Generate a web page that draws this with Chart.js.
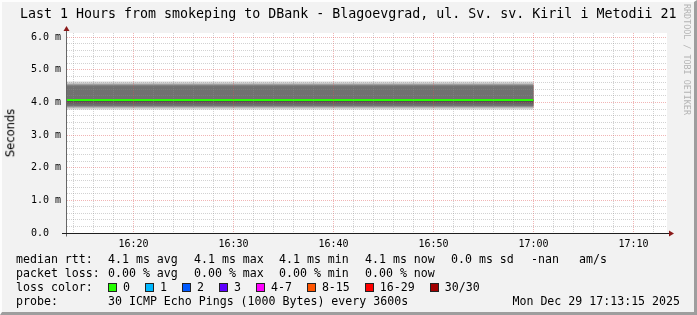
<!DOCTYPE html>
<html>
<head>
<meta charset="utf-8">
<script src="https://cdn.jsdelivr.net/npm/chart.js@4.4.1/dist/chart.umd.min.js"></script>
<style>
  html, body { margin: 0; padding: 0; }
  body {
    width: 697px; height: 315px; position: relative; overflow: hidden;
    background: #f2f2f2; color: #000;
    font-family: 'DejaVu Sans Mono', monospace;
  }
  #frame {
    position: absolute; left: 0; top: 0; width: 697px; height: 315px; box-sizing: border-box;
    border-top: 2px solid #fdfdfd; border-left: 2px solid #fdfdfd;
    border-right: 3px solid #9e9e9e; border-bottom: 3px solid #9e9e9e;
  }
  #chart { position: absolute; left: 0; top: 0; }
  .txt { position: absolute; white-space: pre; line-height: 1; }
  #title { left: 20px; top: 7px; font-size: 13.3px; }
  #ylabel {
    left: 11px; top: 133px; font-family: 'DejaVu Sans', sans-serif; font-size: 11.5px;
    transform: translate(-50%, -50%) rotate(-90deg);
  }
  #rrd { left: 683px; top: 4px; font-size: 8.4px; color: #b4b4b4; writing-mode: vertical-rl; }
  .lg { font-size: 11.6px; }
  .box { position: absolute; width: 7px; height: 7px; border: 1px solid #222; }
</style>
</head>
<body>
<div id="frame"></div>
<canvas id="chart" width="697" height="315"></canvas>
<div class="txt" id="title">Last 1 Hours from smokeping to DBank - Blagoevgrad, ul. Sv. sv. Kiril i Metodii 21</div>
<div class="txt" id="ylabel">Seconds</div>
<div class="txt" id="rrd">RRDTOOL / TOBI OETIKER</div>
<div id="legend"></div>
<script>
// Data (milliseconds)
const sampleTimes = [0, 60];            // minutes after 16:00 (16:00 -> 17:00 sample)
const pings = [3.78, 3.80, 3.82, 3.84, 3.85, 3.86, 3.87, 3.88, 3.89, 3.90,
               3.95, 4.00, 4.03, 4.05, 4.07, 4.08, 4.08, 4.085, 4.09, 4.10,
               4.50, 4.53, 4.54, 4.55, 4.56, 4.57, 4.58, 4.60, 4.62, 4.65];
const medianRtt = [4.08, 4.08];

// Axis
const xRange = [13.35, 73.35];
const yRange = [0, 6.13];
const xTickLabels = ['16:20', '16:30', '16:40', '16:50', '17:00', '17:10'];
const yTickLabels = ['0.0', '1.0 m', '2.0 m', '3.0 m', '4.0 m', '5.0 m', '6.0 m'];

// Legend
const rttNames = ['avg', 'max', 'min', 'now', 'sd'];
const rttValues = [4.1, 4.1, 4.1, 4.1, 0.0];
const lossNames = ['avg', 'max', 'min', 'now'];
const lossValues = [0, 0, 0, 0];
const lossBins = ['0', '1', '2', '3', '4-7', '8-15', '16-29', '30/30'];
const lossColors = ['#26ff00', '#00b8ff', '#0059ff', '#5e00ff', '#ff00ff', '#ff5500', '#ff0000', '#a10000'];

// smoke shades, outermost band first
const smokeShades = ['#e3e3e3', '#d6d6d6', '#cacaca', '#bdbdbd', '#b0b0b0', '#a4a4a4', '#979797',
                     '#8a8a8a', '#7e7e7e', '#717171', '#646464', '#585858', '#4b4b4b', '#3e3e3e', '#323232'];

const pts = vals => sampleTimes.map((t, i) => ({ x: t, y: Array.isArray(vals) ? vals[i] : vals }));

// median on top, then bands from the inside out
const datasets = [{
  data: pts(medianRtt), borderColor: lossColors[0], borderWidth: 2,
  pointRadius: 0, fill: false, borderCapStyle: 'butt'
}];
const half = pings.length / 2;
for (let b = half; b >= 1; b--) {
  datasets.push({
    data: pts(pings[b - 1]), borderColor: 'transparent', borderWidth: 0, pointRadius: 0,
    backgroundColor: smokeShades[b - 1], fill: '+1'
  });
  datasets.push({
    data: pts(pings[pings.length - b]), borderColor: 'transparent', borderWidth: 0, pointRadius: 0, fill: false
  });
}

const minorGrid = 'rgba(143,143,143,0.4)';
const majorGrid = 'rgba(222,79,79,0.42)';

const canvasBg = {
  id: 'canvasBg',
  beforeDraw(chart) {
    const { ctx, chartArea: a } = chart;
    ctx.save();
    ctx.fillStyle = '#ffffff';
    ctx.fillRect(a.left, a.top, a.right - a.left, a.bottom - a.top);
    ctx.restore();
  }
};

const axesArrows = {
  id: 'axesArrows',
  afterDraw(chart) {
    const { ctx, chartArea: a } = chart;
    const x0 = a.left - 0.5, y0 = a.bottom + 0.5;
    ctx.save();
    ctx.lineWidth = 1;
    ctx.strokeStyle = '#666';
    ctx.beginPath(); ctx.moveTo(x0, y0 + 3); ctx.lineTo(x0, a.top - 4); ctx.stroke();
    ctx.strokeStyle = '#1f1f1f';
    ctx.beginPath(); ctx.moveTo(a.left - 5, y0); ctx.lineTo(a.right + 3, y0); ctx.stroke();
    ctx.fillStyle = '#8b1a1a';
    ctx.beginPath();
    ctx.moveTo(x0 - 3, a.top - 2); ctx.lineTo(x0 + 3, a.top - 2); ctx.lineTo(x0, a.top - 7);
    ctx.closePath(); ctx.fill();
    ctx.beginPath();
    ctx.moveTo(a.right + 2, y0 - 3); ctx.lineTo(a.right + 2, y0 + 3); ctx.lineTo(a.right + 7, y0);
    ctx.closePath(); ctx.fill();
    ctx.restore();
  }
};

new Chart(document.getElementById('chart'), {
  type: 'line',
  data: { datasets },
  options: {
    responsive: false,
    animation: false,
    devicePixelRatio: 1,
    events: [],
    layout: { padding: { left: 31, top: 33, right: 30, bottom: 62 } },
    plugins: { legend: { display: false }, tooltip: { enabled: false }, title: { display: false } },
    scales: {
      x: {
        type: 'linear', min: xRange[0], max: xRange[1],
        afterFit(s) { s.height = 20; },
        afterBuildTicks(s) {
          const t = [];
          for (let m = Math.ceil(xRange[0] / 2) * 2; m <= xRange[1]; m += 2) t.push({ value: m });
          s.ticks = t;
        },
        border: { display: false, dash: [1, 1] },
        grid: {
          z: 1, drawTicks: false, lineWidth: 1,
          color: c => (c.tick && c.tick.value % 10 === 0) ? majorGrid : minorGrid
        },
        ticks: {
          autoSkip: false, maxRotation: 0, padding: 5, color: '#000',
          font: { family: "'DejaVu Sans Mono'", size: 10 },
          callback: v => v % 10 === 0 ? (xTickLabels[(v - 20) / 10] || '') : ''
        }
      },
      y: {
        type: 'linear', min: yRange[0], max: yRange[1],
        afterFit(s) { s.width = 36; },
        afterBuildTicks(s) {
          const t = [];
          for (let k = 0; k <= (yTickLabels.length - 1) * 5; k++) t.push({ value: k / 5 });
          s.ticks = t;
        },
        border: { display: false, dash: [1, 1] },
        grid: {
          z: 1, drawTicks: false, lineWidth: 1,
          color: c => {
            if (!c.tick || c.tick.value === 0) return 'rgba(0,0,0,0)';
            return Math.abs(c.tick.value - Math.round(c.tick.value)) < 1e-6 ? majorGrid : minorGrid;
          }
        },
        ticks: {
          autoSkip: false, crossAlign: 'far', color: '#000',
          font: { family: "'DejaVu Sans Mono'", size: 10 },
          callback: v => {
            const r = Math.round(v);
            return Math.abs(v - r) < 1e-6 ? (yTickLabels[r] || '') : '';
          }
        }
      }
    }
  },
  plugins: [canvasBg, axesArrows]
});

// legend block under the graph
const legend = document.getElementById('legend');
function put(text, x, yc, extra) {
  const d = document.createElement('div');
  d.className = 'txt lg';
  d.textContent = text;
  d.style.left = x + 'px';
  d.style.top = (yc - 5.2) + 'px';
  if (extra) Object.assign(d.style, extra);
  legend.appendChild(d);
  return d;
}
const colX = [108, 194, 279, 365, 451];
const rows = [259, 273, 287, 301];

put('median rtt:', 16, rows[0]);
rttValues.forEach((v, i) => put(v.toFixed(1) + ' ms ' + rttNames[i], colX[i], rows[0]));
put('-nan', 531, rows[0]);
put('am/s', 579, rows[0]);

put('packet loss:', 16, rows[1]);
lossValues.forEach((v, i) => put(v.toFixed(2) + ' % ' + lossNames[i], colX[i], rows[1]));

put('loss color:', 16, rows[2]);
let bx = 108;
lossBins.forEach((label, i) => {
  const b = document.createElement('div');
  b.className = 'box';
  b.style.left = bx + 'px';
  b.style.top = (rows[2] - 4) + 'px';
  b.style.background = lossColors[i];
  legend.appendChild(b);
  const t = put(label, bx + 15, rows[2]);
  bx += 15 + t.getBoundingClientRect().width + 15;
});

put('probe:', 16, rows[3]);
put('30 ICMP Echo Pings (1000 Bytes) every 3600s', 108, rows[3]);
put('Mon Dec 29 17:13:15 2025', 0, rows[3], { left: 'auto', right: '17px' });
</script>
</body>
</html>
